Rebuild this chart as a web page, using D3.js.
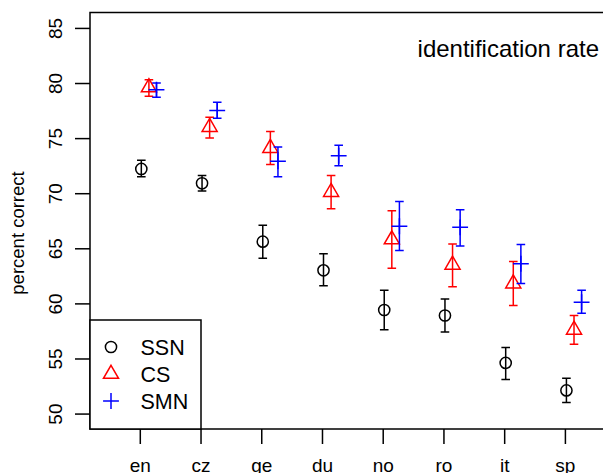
<!DOCTYPE html>
<html>
<head>
<meta charset="utf-8">
<script src="https://cdn.jsdelivr.net/npm/d3@7"></script>
<style>
html,body{margin:0;padding:0;background:#fff;}
svg{display:block;font-family:"Liberation Sans",Arial,Helvetica,sans-serif;}
</style>
</head>
<body>
<svg id="chart" width="603" height="473"></svg>
<script>
const categories = ["en","cz","ge","du","no","ro","it","sp"];
const yTicks = [50,55,60,65,70,75,80,85];
const seriesNames = ["SSN","CS","SMN"];
const seriesColors = ["#000000","#FF0000","#0000FF"];
const seriesShapes = ["circle","triangle","plus"];

const ssnMean = [72.2,70.9,65.6,63.0,59.4,58.9,54.6,52.1];
const ssnLow  = [71.5,70.2,64.1,61.6,57.6,57.4,53.1,51.0];
const ssnHigh = [73.0,71.6,67.1,64.5,61.2,60.4,56.0,53.2];

const csMean = [79.6,76.0,74.1,70.1,65.8,63.5,61.8,57.6];
const csLow  = [78.8,75.0,72.6,68.6,63.2,61.5,59.8,56.3];
const csHigh = [80.3,76.9,75.6,71.6,68.4,65.4,63.8,58.9];

const smnMean = [79.4,77.5,72.9,73.4,67.0,66.9,63.6,60.1];
const smnLow  = [78.7,76.8,71.5,72.5,64.8,65.2,61.8,59.1];
const smnHigh = [80.0,78.25,74.2,74.35,69.25,68.5,65.35,61.2];

const xOffsets = [0.025,0.15,0.275];

const series = [
  {mean:ssnMean, low:ssnLow, high:ssnHigh},
  {mean:csMean, low:csLow, high:csHigh},
  {mean:smnMean, low:smnLow, high:smnHigh}
];

const svg = d3.select("#chart");
const mLeft = 90, mRight = 614.7, mTop = 12.5, mBottom = 429;
const x = d3.scaleLinear().domain([0.18, 8.82]).range([mLeft, mRight]);
const y = d3.scaleLinear().domain([48.6, 86.4]).range([mBottom, mTop]);

const S = 5.6; // symbol size
const lw = 1.5;

function drawSymbol(g, shape, cx, cy, color){
  if(shape==="circle"){
    g.append("circle").attr("cx",cx).attr("cy",cy).attr("r",S)
      .attr("fill","none").attr("stroke",color).attr("stroke-width",lw);
  } else if(shape==="triangle"){
    const r = 1.555*S, xc = 1.347*S, yc = 0.778*S;
    g.append("path").attr("d",`M${cx},${cy-r}L${cx+xc},${cy+yc}L${cx-xc},${cy+yc}Z`)
      .attr("fill","none").attr("stroke",color).attr("stroke-width",lw);
  } else {
    const h = Math.SQRT2*S;
    g.append("path").attr("d",`M${cx-h},${cy}L${cx+h},${cy}M${cx},${cy-h}L${cx},${cy+h}`)
      .attr("fill","none").attr("stroke",color).attr("stroke-width",lw);
  }
}

// data
const gData = svg.append("g");
series.forEach((s,si)=>{
  const col = seriesColors[si];
  categories.forEach((c,i)=>{
    const cx = x(i+1+xOffsets[si]);
    const cap = 4.3;
    const y1 = y(s.low[i]), y2 = y(s.high[i]);
    gData.append("path")
      .attr("d",`M${cx},${y1}L${cx},${y2}M${cx-cap},${y1}L${cx+cap},${y1}M${cx-cap},${y2}L${cx+cap},${y2}`)
      .attr("fill","none").attr("stroke",col).attr("stroke-width",lw);
    drawSymbol(gData, seriesShapes[si], cx, y(s.mean[i]), col);
  });
});

// axes
const yAxis = d3.axisLeft(y).tickValues(yTicks).tickSize(15).tickSizeOuter(0);
const gy = svg.append("g").attr("transform",`translate(${mLeft},0)`).call(yAxis);
gy.select(".domain").remove();
gy.selectAll("line").attr("stroke","#000").attr("stroke-width",lw);
gy.selectAll("text").attr("x",0).attr("y",-28).attr("dy",null)
  .attr("transform","rotate(-90)").attr("text-anchor","middle")
  .attr("font-size",19).attr("fill","#000").style("font-family",'"Liberation Sans",Arial,sans-serif');

const xAxis = d3.axisBottom(x).tickValues(d3.range(1,categories.length+1))
  .tickFormat(i=>categories[i-1]).tickSize(15).tickSizeOuter(0);
const gx = svg.append("g").attr("transform",`translate(0,${mBottom})`).call(xAxis);
gx.select(".domain").remove();
gx.selectAll("line").attr("stroke","#000").attr("stroke-width",lw);
gx.selectAll("text").attr("y",43).attr("dy",null)
  .attr("font-size",19).attr("fill","#000").style("font-family",'"Liberation Sans",Arial,sans-serif');

// box
svg.append("rect").attr("x",mLeft).attr("y",mTop).attr("width",mRight-mLeft).attr("height",mBottom-mTop)
  .attr("fill","none").attr("stroke","#000").attr("stroke-width",lw);

// y label
svg.append("text").attr("transform","translate(23.5,233) rotate(-90)")
  .attr("text-anchor","middle").attr("font-size",18.5).text("percent correct");

// title
svg.append("text").attr("x",599).attr("y",56.7).attr("text-anchor","end")
  .attr("font-size",24).text("identification rate");

// legend
const lg = svg.append("g");
lg.append("rect").attr("x",mLeft).attr("y",320).attr("width",201-mLeft).attr("height",mBottom-320)
  .attr("fill","#fff").attr("stroke","#000").attr("stroke-width",lw);
seriesNames.forEach((n,i)=>{
  const cy = 347 + i*27;
  drawSymbol(lg, seriesShapes[i], 111, cy, seriesColors[i]);
  lg.append("text").attr("x",140.5).attr("y",cy+8).attr("font-size",21.5).text(n);
});
</script>
</body>
</html>
